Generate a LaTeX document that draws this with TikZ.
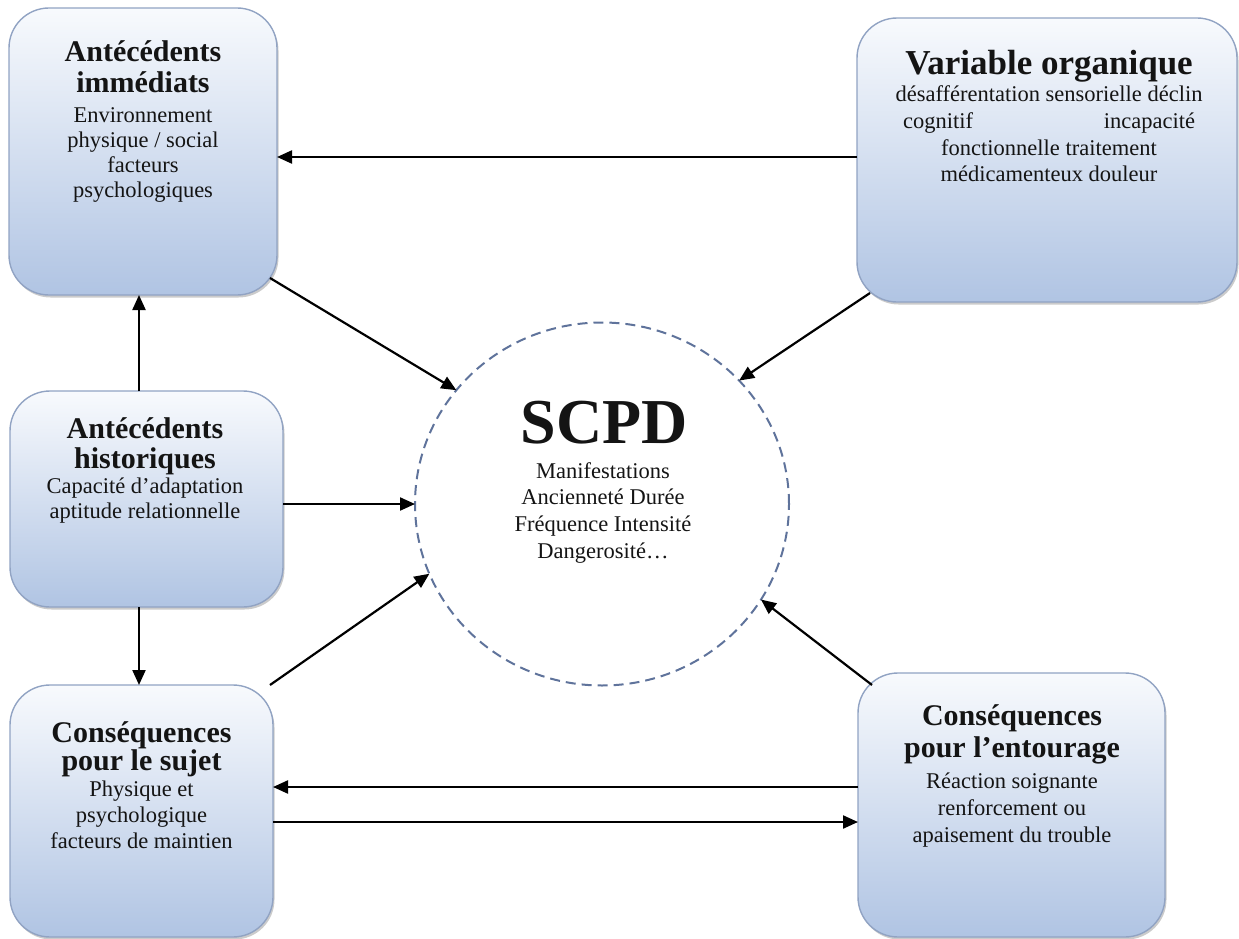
\documentclass[tikz,border=0pt]{standalone}
\usepackage{fontspec}
\setmainfont{Liberation Serif}
\usetikzlibrary{arrows.meta,shapes.geometric,shadows,calc}
\definecolor{boxtop}{RGB}{248,250,253}
\definecolor{boxbot}{RGB}{176,196,227}
\definecolor{boxline}{RGB}{145,163,195}
\definecolor{circline}{RGB}{95,115,155}
\definecolor{txt}{RGB}{20,20,20}
% width, heading size, heading lead, body lead, extra gap, heading, body
\newcommand{\bxtext}[7]{\parbox[t]{#1}{\centering
  \fontsize{#2}{#3}\selectfont\bfseries #6\par
  \vspace{#5}\fontsize{22.5}{#4}\selectfont\mdseries #7\par}}
\tikzset{
  bx/.style={rectangle, rounded corners=40pt, draw=boxline, line width=1.4pt,
    top color=boxtop, bottom color=boxbot, inner sep=0pt, outer sep=0pt,
    drop shadow={shadow xshift=1.5pt, shadow yshift=-2.5pt, fill=black!45, opacity=0.45}},
  lbl/.style={anchor=base, inner sep=0pt, text=txt},
  arr/.style={-{Triangle[length=15pt,width=13pt]}, line width=2.2pt, black},
}
\begin{document}
\begin{tikzpicture}[x=1pt,y=-1pt]
\useasboundingbox (0,0) rectangle (1239,939);
% boxes
\node[bx, minimum width=268pt, minimum height=287pt] (b1) at (143,151.5) {};
\node[bx, minimum width=380pt, minimum height=284pt] (b2) at (1047,160) {};
\node[bx, minimum width=273pt, minimum height=216pt] (b3) at (146.5,499) {};
\node[bx, minimum width=263pt, minimum height=252pt] (b4) at (141.5,811) {};
\node[bx, minimum width=307pt, minimum height=264pt] (b5) at (1011.5,805) {};
% circle
\node[ellipse, draw=circline, line width=2pt, dash pattern=on 10pt off 6pt,
  minimum width=374pt, minimum height=363pt, inner sep=0pt, outer sep=0pt] (circ) at (602,504) {};
% texts
\node[lbl] (t1) at (143,62) {\bxtext{260pt}{30}{31}{25}{5pt}{Antécédents\\immédiats}{Environnement\\physique / social\\facteurs\\psychologiques}};
\node[lbl] (t2) at (1049,75) {\bxtext{330pt}{35}{35}{26.7}{0pt}{Variable organique}{désafférentation sensorielle déclin\\\makebox[292pt]{cognitif\hfill incapacité}\\fonctionnelle traitement\\médicamenteux douleur}};
\node[lbl] (t3) at (145,438) {\bxtext{265pt}{30}{30}{25}{0pt}{Antécédents\\historiques}{Capacité d’adaptation\\aptitude relationnelle}};
\node[lbl] (t4) at (141.5,742) {\bxtext{255pt}{30}{28}{26}{0pt}{Conséquences\\pour le sujet}{Physique et\\psychologique\\facteurs de maintien}};
\node[lbl] (t5) at (1012,725) {\bxtext{295pt}{30}{32}{27}{4pt}{Conséquences\\pour l’entourage}{Réaction soignante\\renforcement ou\\apaisement du trouble}};
\node[lbl] (scpd) at (604,443) {\fontsize{64}{64}\selectfont\bfseries SCPD};
\node[lbl] (scpdtxt) at (603,478) {\parbox[t]{260pt}{\centering\fontsize{22.5}{26.7}\selectfont Manifestations\\Ancienneté Durée\\Fréquence Intensité\\Dangerosité…}};
% helper coordinates
\coordinate (xv) at (139,0);
\coordinate (ya) at (0,157);
\coordinate (yb) at (0,787);
\coordinate (yc) at (0,822);
% connectors
\draw[arr] (b2.west |- ya) -- (b1.east |- ya);
\draw[arr] ($(b1.south east)+(-7,-17)$) -- (circ.142.6);
\draw[arr] ($(b2.south west)+(13,-9)$) -- (circ.42);
\draw[arr] (b3.north -| xv) -- (b1.south -| xv);
\draw[arr] (b3.east |- circ.west) -- (circ.west);
\draw[arr] (b3.south -| xv) -- (b4.north -| xv);
\draw[arr] ($(b4.north east)+(-3,0)$) -- (circ.202.8);
\draw[arr] ($(b5.north west)+(14,12)$) -- (circ.329);
\draw[arr] (b5.west |- yb) -- (b4.east |- yb);
\draw[arr] (b4.east |- yc) -- (b5.west |- yc);
\end{tikzpicture}
\end{document}
